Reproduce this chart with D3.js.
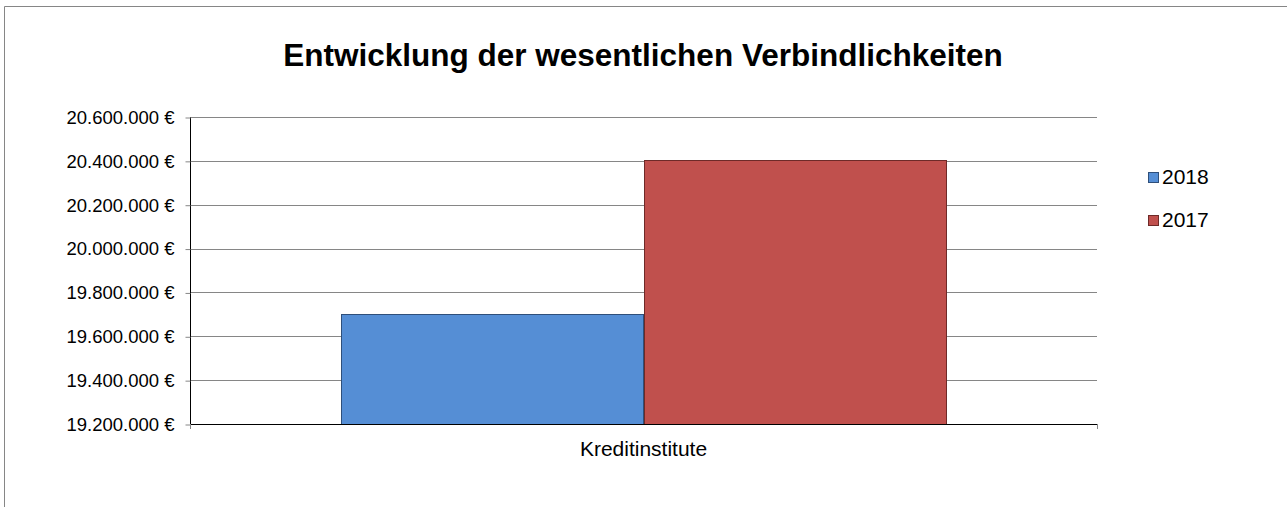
<!DOCTYPE html>
<html><head><meta charset="utf-8">
<script src="https://cdn.jsdelivr.net/npm/d3@7"></script>
<style>body{margin:0;background:#fff}svg{display:block;font-family:"Liberation Sans",Arial,sans-serif}</style>
</head><body><svg id="c" width="1287" height="507"></svg>
<script>
const title = "Entwicklung der wesentlichen Verbindlichkeiten";
const categories = ["Kreditinstitute"];
const seriesNames = ["2018", "2017"];
const values2018 = [19700000];
const values2017 = [20403000];
const yTicks = [19200000, 19400000, 19600000, 19800000, 20000000, 20200000, 20400000, 20600000];
const colors = ["#558ED5", "#C0504D"];
const strokes = ["#2F4F7A", "#6E2A28"];

const svg = d3.select("#c");
svg.append("path").attr("d","M4.5,507V6.5H1287").attr("fill","none").attr("stroke","#868686").attr("stroke-width",1);

const m = {l:190, r:1097, t:117, b:424};
const y = d3.scaleLinear().domain([19200000, 20600000]).range([m.b, m.t]);
const x0 = d3.scaleBand().domain(categories).range([m.l, m.r]).paddingInner(0).paddingOuter(0);
// 50% gap width -> group occupies 2/3 of category
const x1 = d3.scaleBand().domain(seriesNames).range([x0.bandwidth()/6, x0.bandwidth()*5/6]).padding(0);

const fmt = v => d3.format(",")(v).replace(/,/g, ".") + " €";

// gridlines
svg.append("g").selectAll("line").data(yTicks.slice(1)).join("line")
  .attr("x1", m.l).attr("x2", m.r)
  .attr("y1", d => Math.round(y(d))+0.5).attr("y2", d => Math.round(y(d))+0.5)
  .attr("stroke", "#868686").attr("stroke-width", 1);

const data = categories.map((c,i)=>({cat:c, vals:[values2018[i], values2017[i]]}));
const g = svg.append("g");
data.forEach(d=>{
  d.vals.forEach((v,j)=>{
    const xx = x0(d.cat) + x1(seriesNames[j]);
    g.append("rect")
      .attr("x", Math.round(xx)+0.5).attr("y", Math.round(y(v))+0.5)
      .attr("width", Math.round(x1.bandwidth()))
      .attr("height", Math.round(y(19200000) - y(v)))
      .attr("fill", colors[j]).attr("stroke", strokes[j]).attr("stroke-width", 1);
  });
});

// y axis
const ya = d3.axisLeft(y).tickValues(yTicks).tickFormat(fmt).tickSize(5).tickPadding(11);
const yg = svg.append("g").attr("transform", `translate(${m.l+0.5},0.5)`).call(ya);
yg.select(".domain").attr("stroke","#000").attr("d", `M0,${m.t}V${m.b}`);
yg.selectAll(".tick line").attr("stroke","#868686");
yg.selectAll(".tick text").attr("font-size", 18.5).attr("fill","#000").attr("font-family","Liberation Sans, Arial, sans-serif");

// x axis
const xa = d3.axisBottom(x0).tickSize(0).tickPadding(17);
const xg = svg.append("g").attr("transform", `translate(0,${m.b+0.5})`).call(xa);
xg.select(".domain").attr("stroke","#000").attr("d", `M${m.l},0H${m.r}`);
xg.selectAll(".tick text").attr("font-size", 21).attr("fill","#000").attr("font-family","Liberation Sans, Arial, sans-serif");
svg.append("g").selectAll("line").data([m.l, m.r]).join("line")
  .attr("x1", d=>d+0.5).attr("x2", d=>d+0.5).attr("y1", m.b).attr("y2", m.b+5)
  .attr("stroke","#868686");

// title
svg.append("text").attr("x", 643).attr("y", 66).attr("text-anchor","middle")
  .attr("font-size", 31.5).attr("font-weight","bold").attr("fill","#000").text(title);

// legend
const lg = svg.append("g");
seriesNames.forEach((s,i)=>{
  const yy = 172 + i*43;
  lg.append("rect").attr("x",1148.5).attr("y",yy+0.5).attr("width",10).attr("height",10)
    .attr("fill",colors[i]).attr("stroke",strokes[i]);
  lg.append("text").attr("x",1162).attr("y",yy+12).attr("font-size",21).attr("fill","#000").text(s);
});
</script></body></html>
